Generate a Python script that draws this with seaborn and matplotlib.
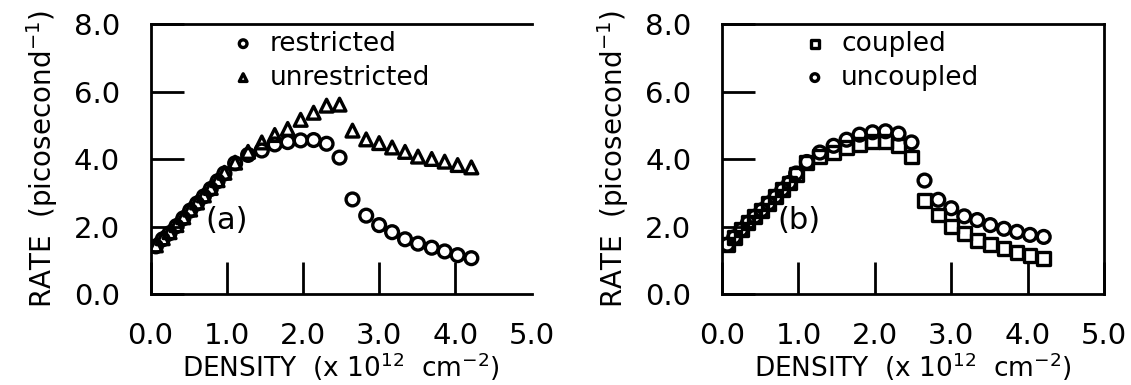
import numpy as np
import pandas as pd
import matplotlib
matplotlib.use("Agg")
import matplotlib.pyplot as plt
import seaborn as sns

# density grid (x 10^12 cm^-2)
density = [0.07, 0.16, 0.25, 0.34, 0.43, 0.52, 0.61, 0.70, 0.79, 0.88,
           0.97, 1.11, 1.28, 1.46, 1.63, 1.80, 1.97, 2.14, 2.31, 2.48,
           2.65, 2.83, 3.00, 3.17, 3.34, 3.51, 3.69, 3.86, 4.03, 4.21]

# panel (a)
restricted = [1.42, 1.63, 1.81, 2.02, 2.25, 2.48, 2.69, 2.90, 3.12, 3.35,
              3.58, 3.88, 4.13, 4.26, 4.44, 4.51, 4.56, 4.57, 4.46, 4.05,
              2.81, 2.33, 2.05, 1.84, 1.63, 1.50, 1.38, 1.27, 1.16, 1.07]
unrestricted = [1.45, 1.66, 1.84, 2.05, 2.28, 2.51, 2.72, 2.93, 3.15, 3.38,
                3.60, 3.90, 4.22, 4.50, 4.72, 4.90, 5.17, 5.38, 5.59, 5.62,
                4.85, 4.59, 4.48, 4.35, 4.22, 4.08, 4.01, 3.93, 3.83, 3.76]

# panel (b)
coupled = [1.47, 1.69, 1.91, 2.12, 2.30, 2.49, 2.69, 2.89, 3.10, 3.30,
           3.55, 3.90, 4.08, 4.20, 4.35, 4.45, 4.52, 4.52, 4.42, 4.07,
           2.79, 2.35, 2.02, 1.79, 1.60, 1.48, 1.36, 1.23, 1.14, 1.05]
uncoupled = [1.47, 1.69, 1.91, 2.12, 2.30, 2.49, 2.69, 2.89, 3.10, 3.30,
             3.58, 3.92, 4.20, 4.40, 4.58, 4.73, 4.80, 4.83, 4.76, 4.50,
             3.37, 2.80, 2.55, 2.31, 2.20, 2.05, 1.94, 1.85, 1.76, 1.70]

xticks = [0, 1, 2, 3, 4, 5]
yticks = [0, 2, 4, 6, 8]

sns.set_style("ticks")
plt.rcParams['font.family'] = ['DejaVu Sans']
plt.rcParams['mathtext.default'] = 'regular'
plt.rcParams['text.color'] = 'black'
plt.rcParams['axes.labelcolor'] = 'black'
plt.rcParams['xtick.color'] = 'black'
plt.rcParams['ytick.color'] = 'black'

fig = plt.figure(figsize=(11.31, 3.85), dpi=100)
ax_a = fig.add_axes([0.1331, 0.2356, 0.3369, 0.7013])
ax_b = fig.add_axes([0.6384, 0.2356, 0.3378, 0.7013])

mk = dict(s=85, facecolor='none', edgecolor='black', linewidth=2.4, zorder=3)

sns.scatterplot(x=density, y=restricted, marker='o', label='restricted', ax=ax_a, **mk)
sns.scatterplot(x=density, y=unrestricted, marker='^', label='unrestricted', ax=ax_a, **mk)

sns.scatterplot(x=density, y=coupled, marker='s', label='coupled', ax=ax_b, **mk)
sns.scatterplot(x=density, y=uncoupled, marker='o', label='uncoupled', ax=ax_b, **mk)

for ax, tag in [(ax_a, '(a)'), (ax_b, '(b)')]:
    ax.set_xlim(0, 5)
    ax.set_ylim(0, 8)
    ax.set_xticks(xticks)
    ax.set_yticks(yticks)
    ax.set_xticklabels([f"{v:.1f}" for v in xticks])
    ax.set_yticklabels([f"{v:.1f}" for v in yticks])
    ax.tick_params(axis='x', direction='in', length=23, width=2, pad=20, labelsize=21)
    ax.tick_params(axis='y', direction='in', length=24, width=2, pad=22, labelsize=21)
    for sp in ax.spines.values():
        sp.set_linewidth(2)
        sp.set_color('black')
    ax.set_xlabel(r"DENSITY  (x 10$^{12}$  cm$^{-2}$)", fontsize=19, labelpad=0)
    ax.set_ylabel(r"RATE  (picosecond$^{-1}$)", fontsize=20, labelpad=10)
    ax.text(1.0, 2.2, tag, fontsize=22, ha='center', va='center')
    ax.legend(loc='upper left', bbox_to_anchor=(0.16, 1.045), frameon=False,
              fontsize=19, markerscale=0.6, handlelength=1.0, handletextpad=0.5,
              labelspacing=0.3, borderpad=0.2)

# panel (a) has no right border in the scan
ax_a.spines['right'].set_visible(False)
ax_a.xaxis.get_major_ticks()[-1].tick1line.set_visible(False)

fig.savefig("out.png", dpi=100)
